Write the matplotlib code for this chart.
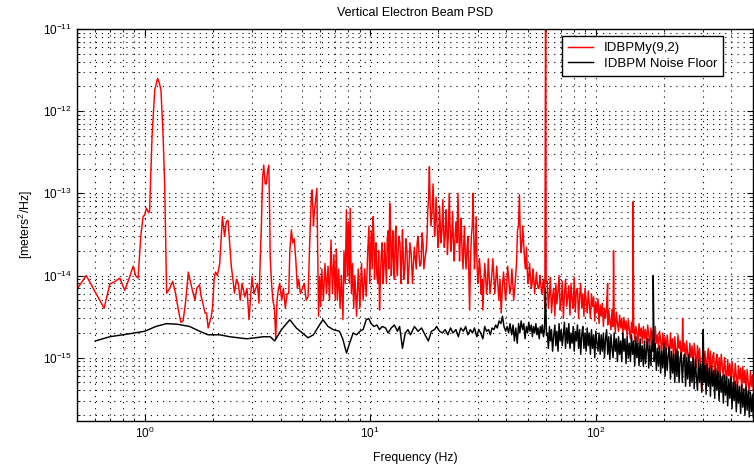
import matplotlib
matplotlib.use("Agg")
import matplotlib.pyplot as plt
import numpy as np

# ---------------- data (PSD values in units of 1e-15 m^2/Hz) ----------------
SCALE = 1e-15

red_f_low = [0.50, 0.55, 0.66, 0.70, 0.74, 0.775, 0.815, 0.85, 0.888, 0.91,
             0.934, 0.96, 0.983, 1.00, 1.017, 1.04, 1.05, 1.077, 1.107, 1.14,
             1.16, 1.18, 1.206, 1.226, 1.25, 1.29, 1.33, 1.37, 1.405, 1.445,
             1.48, 1.52, 1.56, 1.60, 1.64, 1.67, 1.70, 1.75, 1.78, 1.81,
             1.85, 1.88, 1.91, 1.94, 1.97, 2.00, 2.03, 2.06, 2.10, 2.15,
             2.21, 2.26, 2.30, 2.34, 2.38, 2.42, 2.46, 2.50, 2.55, 2.60,
             2.65, 2.70, 2.78, 2.84, 2.90, 2.99, 3.05, 3.10, 3.16, 3.21,
             3.25, 3.29, 3.33, 3.37, 3.42, 3.46, 3.50, 3.55, 3.58, 3.60,
             3.65, 3.70, 3.76, 3.81, 3.86, 3.92, 3.97, 4.05, 4.12, 4.20,
             4.28, 4.35, 4.40, 4.47, 4.53, 4.60, 4.68, 4.75, 4.82, 4.90,
             5.00, 5.10, 5.20, 5.30, 5.40, 5.48, 5.53, 5.60, 5.65, 5.72,
             5.80, 5.85, 5.90, 5.97]
red_v_low = [6.8, 10, 4.0, 7.9, 8.5, 9.3, 6.6, 9, 13, 10,
             9.3, 30, 52, 55, 66, 58, 60, 490, 1800, 2500,
             2200, 1800, 490, 120, 6.1, 7, 8.5, 6, 4, 2.7,
             2.8, 5, 11, 8, 6, 5, 7, 7.7, 5.5, 4.6,
             3.5, 3.5, 2.3, 2.7, 3.1, 4.2, 9, 11, 10, 14,
             52, 30, 45, 47, 25, 13, 9, 6.1, 9, 8,
             5, 8, 5.5, 7, 2.9, 9.7, 6, 6.8, 8, 4.6,
             15, 40, 150, 220, 130, 130, 180, 220, 60, 17,
             8, 5, 4, 1.7, 5, 7, 8, 5, 7, 4,
             6, 6, 20, 36, 25, 28, 15, 7, 9, 6,
             7, 8, 5, 5.5, 30, 90, 110, 40, 60, 80,
             115, 20, 3.2, 9.8]

red_f_mid = [6.03, 6.10, 6.20, 6.30, 6.40, 6.50, 6.60, 6.70, 6.80, 6.90,
             7.00, 7.07, 7.15, 7.25, 7.35, 7.45, 7.57, 7.65, 7.75, 7.84,
             7.92, 8.00, 8.08, 8.15, 8.25, 8.35, 8.45, 8.55, 8.70, 8.85,
             9.00, 9.15, 9.30, 9.45, 9.60, 9.75, 9.87, 9.95, 10.1, 10.3,
             10.45, 10.6, 10.8, 11.0, 11.2, 11.4, 11.6, 11.8, 12.0, 12.2,
             12.4, 12.6, 12.8, 13.0, 13.2, 13.4, 13.7, 13.9, 14.1, 14.4,
             14.7, 15.0, 15.4, 15.7, 16.0, 16.3, 16.6, 17.0, 17.3, 17.7,
             18.0, 18.3, 18.6, 19.0, 19.3, 19.6, 20.0, 20.3, 20.6, 21.0,
             21.3, 21.7, 22.0, 22.4, 22.8, 23.2, 23.6, 24.0, 24.5, 24.9,
             25.3, 25.8, 26.2, 26.6, 27.1, 27.6, 28.1, 28.6, 29.0, 29.5,
             30.0, 30.5, 31.0, 31.6, 32.2, 32.8, 33.4, 34.0, 35.0, 35.7,
             36.4, 37.2, 38.1, 39.0, 39.8, 40.7, 41.6, 42.5, 43.3, 44.2,
             45.0, 45.9, 46.7, 47.5, 48.4, 49.3, 50.1, 50.9, 51.8, 52.7,
             53.6, 54.6, 55.6, 56.6, 57.6, 58.6, 59.5, 59.95, 60.05, 60.3]
red_v_mid = [4.2, 12, 5, 14, 6, 13, 5, 27, 6, 18,
             5, 21, 5, 12, 4, 10, 2.9, 20, 8, 63,
             10, 45, 8, 66, 6, 14, 4, 10, 3.2, 12,
             4, 14, 5, 12, 5.6, 20, 40, 8, 35, 52,
             9, 25, 8, 3.8, 18, 8, 25, 8, 35, 76,
             10, 35, 9, 40, 10, 30, 8, 36, 9, 28,
             8, 25, 8, 22, 12, 30, 13, 33, 12, 20,
             60, 210, 40, 130, 30, 90, 22, 70, 25, 84,
             22, 63, 18, 100, 20, 60, 15, 45, 100, 15,
             50, 12, 40, 12, 30, 3.8, 30, 100, 12, 52,
             8, 16, 6, 3.8, 14, 6, 16, 6, 16, 6,
             13, 5, 3.5, 11, 5, 13, 6, 12, 5, 10,
             35, 96, 19, 40, 15, 22, 8, 14, 7, 12,
             6, 11, 7, 10, 6, 9, 4, 20000, 4600, 8]

# extra samples between the ones above (the 10-60 Hz band is densely sampled)
red_f_fill = [10.2, 10.38, 10.52, 10.7, 10.9, 11.1, 11.3, 11.5, 11.7, 11.9,
              12.1, 12.3, 12.5, 12.7, 12.9, 13.1, 13.3, 13.55, 13.8, 14.0,
              14.25, 14.55, 14.85, 15.2, 15.55, 15.85, 16.15, 16.45, 16.8, 17.15,
              17.5, 17.85, 18.15, 18.45, 18.8, 19.15, 19.45, 19.8, 20.15, 20.45,
              20.8, 21.15, 21.5, 21.85, 22.2, 22.6, 23.0, 23.4, 23.8, 24.25,
              24.7, 25.1, 25.55, 26.0, 26.4, 26.85, 27.35, 27.85, 28.35, 28.8,
              29.25, 29.75, 30.25, 30.75, 31.3, 31.9, 32.5, 33.1, 33.7, 34.5,
              35.35, 36.05, 36.8, 37.65, 38.55, 39.4, 40.25, 41.15, 42.05, 42.9,
              43.75, 44.6, 45.45, 46.3, 47.1, 47.95, 48.85, 49.7, 50.5, 51.35,
              52.25, 53.15, 54.1, 55.1, 56.1, 57.1, 58.1, 59.0]
red_v_fill = [12, 30, 18, 10, 20, 10, 25, 12, 14, 28,
              12, 40, 20, 12, 30, 14, 20, 25, 15, 20,
              12, 20, 12, 18, 14, 16, 25, 18, 14, 25,
              16, 28, 90, 70, 60, 60, 45, 40, 30, 40,
              35, 40, 30, 40, 30, 40, 30, 25, 30, 25,
              35, 30, 20, 25, 18, 20, 12, 15, 40, 30,
              20, 15, 10, 12, 9, 8, 10, 8, 10, 9,
              10, 9, 8, 9, 7, 8, 7, 9, 7, 8,
              7, 15, 40, 30, 25, 25, 12, 12, 9, 10,
              8, 9, 8, 8, 7, 8, 7, 7]

# high-frequency region: both traces share these frequencies
hf_f = [61.0, 61.7, 62.4, 63.0, 63.7, 64.4, 65.1, 65.9, 66.6, 67.3,
        68.1, 68.8, 69.6, 70.4, 71.1, 71.9, 72.7, 73.5, 74.4, 75.2,
        76.0, 76.9, 77.7, 78.6, 79.5, 80.3, 81.2, 82.1, 83.0, 84.0,
        84.9, 85.8, 86.8, 87.7, 88.7, 89.7, 90.7, 91.7, 92.7, 93.7,
        94.8, 95.8, 96.9, 98.0, 99.1, 100.2, 101.3, 102.4, 103.5, 104.7,
        105.8, 107.0, 108.2, 109.4, 110.6, 111.8, 113.1, 114.3, 115.6, 116.9,
        118.2, 119.5, 120.8, 122.2, 123.5, 124.9, 126.3, 127.7, 129.1, 130.5,
        132.0, 133.4, 134.9, 136.4, 137.9, 139.5, 141.0, 142.6, 144.2, 145.8,
        147.4, 149.0, 150.7, 152.3, 154.0, 155.7, 157.5, 159.2, 161.0, 162.8,
        164.6, 166.4, 168.3, 170.1, 172.0, 173.9, 175.9, 177.8, 179.8, 181.8,
        183.8, 185.9, 187.9, 190.0, 192.1, 194.3, 196.4, 198.6, 200.8, 203.1,
        205.3, 207.6, 209.9, 212.2, 214.6, 217.0, 219.4, 221.8, 224.3, 226.8,
        229.3, 231.8, 234.4, 237.0, 239.6, 242.3, 245.0, 247.7, 250.5, 253.2,
        256.0, 258.9, 261.8, 264.7, 267.6, 270.6, 273.6, 276.6, 279.7, 282.8,
        286.0, 289.1, 292.3, 295.6, 298.9, 302.2, 305.5, 308.9, 312.3, 315.8,
        319.3, 322.9, 326.4, 330.0, 333.7, 337.4, 341.1, 344.9, 348.7, 352.6,
        356.5, 360.5, 364.5, 368.5, 372.6, 376.7, 380.9, 385.1, 389.4, 393.7,
        398.0, 402.5, 406.9, 411.4, 416.0, 420.6, 425.3, 430.0, 434.8, 439.6,
        444.5, 449.4, 454.4, 459.4, 464.5, 469.7, 474.9, 480.1, 485.5, 490.8,
        496.3, 500.0]
red_v_hf = [8.5, 4.0, 6.0, 9.5, 3.5, 5.5, 7.0, 3.2, 8.0, 4.5,
            6.5, 10.0, 3.8, 5.0, 8.5, 3.0, 6.0, 9.0, 4.2, 5.5,
            7.5, 3.3, 8.0, 5.0, 4.0, 9.5, 3.6, 6.5, 7.0, 3.0,
            5.5, 8.0, 4.0, 6.0, 3.2, 7.0, 5.0, 3.5, 6.5, 4.5,
            3.0, 6.0, 4.2, 5.5, 2.8, 4.8, 3.5, 5.2, 2.6, 4.4,
            3.2, 4.6, 2.4, 4.0, 3.0, 4.2, 2.5, 3.8, 2.8, 2.2,
            3.9, 2.4, 3.4, 2.0, 3.6, 2.6, 2.1, 3.3, 2.3, 3.0,
            1.9, 3.1, 2.2, 2.8, 1.8, 2.9, 2.2, 1.7, 2.7, 2.0,
            2.6, 1.6, 2.4, 2.0, 1.5, 2.6, 1.8, 2.3, 1.5, 2.4,
            1.7, 2.2, 1.4, 2.5, 1.9, 1.4, 2.3, 1.6, 2.1, 1.3,
            2.4, 1.5, 1.9, 1.3, 2.1, 1.6, 1.2, 2.0, 1.4, 1.8,
            1.1, 1.9, 1.4, 1.0, 2.0, 1.3, 1.7, 0.95, 1.8, 1.2,
            1.0, 1.9, 1.3, 1.6, 0.9, 1.7, 1.2, 1.5, 0.9, 1.6,
            1.1, 0.85, 1.5, 1.0, 1.4, 0.8, 1.5, 1.1, 0.75, 1.4,
            0.9, 1.3, 0.7, 0.39, 1.4, 0.8, 1.2, 0.65, 1.0, 1.3,
            0.7, 1.2, 0.6, 1.0, 1.15, 0.6, 0.9, 1.1, 0.55, 1.0,
            0.6, 1.1, 0.8, 0.55, 1.0, 0.7, 0.5, 0.95, 0.6, 0.85,
            0.48, 0.9, 0.65, 0.45, 0.85, 0.6, 0.42, 0.8, 0.55, 0.75,
            0.4, 0.78, 0.5, 0.7, 0.38, 0.72, 0.5, 0.36, 0.68, 0.45,
            0.62, 0.4]
black_v_hf = [2.0, 1.3, 2.4, 1.6, 2.2, 1.2, 1.8, 2.5, 1.4, 2.1,
              1.2, 2.6, 1.6, 2.2, 1.4, 1.9, 2.7, 1.3, 2.3, 1.5,
              2.6, 1.3, 2.0, 1.5, 2.4, 1.2, 2.1, 1.6, 2.5, 1.3,
              2.2, 1.1, 1.9, 2.4, 1.3, 2.0, 1.2, 2.3, 1.4, 2.0,
              1.1, 2.2, 1.3, 1.9, 1.0, 2.1, 1.5, 1.2, 2.0, 1.1,
              1.9, 1.2, 2.0, 1.0, 1.7, 2.2, 1.1, 1.8, 0.95, 1.9,
              1.3, 1.0, 2.0, 1.2, 1.7, 0.9, 1.8, 1.1, 1.6, 0.9,
              2.0, 1.2, 1.7, 0.85, 1.8, 1.0, 1.5, 0.9, 1.9, 1.1,
              1.6, 0.8, 1.8, 1.0, 1.5, 0.8, 1.7, 0.9, 1.4, 0.78,
              1.6, 0.85, 1.3, 1.7, 0.75, 1.4, 0.8, 1.6, 1.2, 0.9,
              1.5, 0.7, 1.3, 0.8, 1.4, 0.65, 1.2, 0.75, 1.5, 0.6,
              1.3, 0.7, 1.1, 1.35, 0.55, 1.2, 0.65, 1.1, 0.5, 1.25,
              0.6, 1.2, 0.5, 1.0, 1.15, 0.5, 0.9, 1.1, 0.45, 1.0,
              0.55, 1.1, 0.45, 0.9, 0.5, 1.0, 0.42, 0.95, 0.6, 0.4,
              0.95, 0.5, 0.85, 0.38, 0.9, 0.5, 0.8, 0.36, 0.85, 0.45,
              0.75, 0.34, 0.8, 0.45, 0.7, 0.32, 0.75, 0.4, 0.68, 0.3,
              0.65, 0.38, 0.6, 0.28, 0.62, 0.35, 0.58, 0.26, 0.55, 0.32,
              0.58, 0.24, 0.5, 0.3, 0.52, 0.22, 0.48, 0.28, 0.45, 0.21,
              0.47, 0.25, 0.42, 0.2, 0.44, 0.23, 0.4, 0.19, 0.38, 0.22,
              0.36, 0.19]

# narrow spectral lines above 60 Hz
red_line_f = [113.0, 120.0, 146.6, 243.0]
red_line_v = [8.0, 20.0, 79.0, 3.0]
black_line_f = [180.0, 300.0]
black_line_v = [10.0, 2.2]

black_f_low = [0.604, 0.70, 0.85, 1.00, 1.12, 1.25, 1.40, 1.58, 1.75, 1.91,
               2.15, 2.38, 2.60, 2.83, 3.10, 3.35, 3.60, 3.77, 4.04, 4.40,
               4.70, 5.00, 5.30, 5.60, 5.90, 6.17, 6.50, 6.85, 7.30, 7.55,
               7.85, 8.10, 8.40, 8.70, 9.00, 9.30, 9.60, 9.85, 10.1, 10.4,
               10.7, 11.0, 11.3, 11.7, 12.0, 12.4, 12.8, 13.2, 13.5, 13.9,
               14.3, 14.7, 15.1, 15.7, 16.3, 16.9, 17.5, 18.1, 18.7, 19.3,
               19.7, 20.3, 20.9, 21.5, 22.1, 22.7, 23.3, 24.0, 24.6, 25.2,
               25.9, 26.5, 27.1, 27.8, 28.4, 29.0, 29.7, 30.3, 30.9, 31.6,
               32.2, 32.8, 33.5, 34.1, 34.7, 35.4, 36.0, 36.6, 37.3, 38.0,
               38.6, 39.2, 39.9, 40.5, 41.1, 41.7, 42.4, 43.0, 43.6, 44.2,
               44.9, 45.5, 46.1, 46.7, 47.4, 48.0, 48.6, 49.3, 49.9, 50.5,
               51.1, 51.8, 52.4, 53.0, 53.6, 54.3, 54.9, 55.5, 56.2, 56.8,
               57.4, 58.0, 58.7, 59.3, 59.9, 60.5]
black_v_low = [1.6, 1.8, 1.95, 2.1, 2.4, 2.6, 2.55, 2.4, 2.1, 1.9,
               1.9, 1.8, 1.75, 1.7, 1.75, 1.8, 1.8, 1.6, 2.2, 2.9,
               2.3, 2.0, 1.75, 1.9, 2.4, 2.9, 2.4, 2.2, 2.1, 1.7,
               1.14, 1.5, 2.0, 1.9, 2.1, 2.2, 2.9, 3.0, 2.6, 2.4,
               2.5, 2.2, 2.4, 2.3, 2.0, 2.3, 2.5, 2.1, 2.4, 1.3,
               2.0, 2.2, 1.9, 2.4, 2.1, 2.3, 1.9, 1.6, 2.1, 2.2,
               2.4, 2.1, 2.0, 2.2, 1.9, 2.3, 2.0, 2.2, 1.8, 2.3,
               2.1, 2.4, 1.9, 2.2, 2.0, 2.3, 1.8, 2.2, 2.0, 1.7,
               2.4, 2.1, 2.2, 1.9, 2.3, 2.2, 2.5, 2.3, 2.8, 2.6,
               3.2, 2.4, 2.1, 2.4, 2.0, 2.6, 1.9, 2.5, 1.6, 2.3,
               1.5, 2.6, 2.0, 2.8, 2.2, 2.6, 1.7, 2.4, 2.0, 2.7,
               2.1, 2.5, 1.8, 2.4, 2.0, 2.6, 1.9, 2.3, 1.7, 2.4,
               2.0, 2.5, 1.8, 2.2, 7.0, 1.9]

labels = ["IDBPMy(9,2)", "IDBPM Noise Floor"]
y_major = [1e-15, 1e-14, 1e-13, 1e-12, 1e-11]
x_major = [1, 10, 100]

# ---------------- plotting ----------------
plt.rcParams['font.family'] = ['Liberation Sans', 'DejaVu Sans']
plt.rcParams['mathtext.fontset'] = 'custom'
plt.rcParams['mathtext.rm'] = 'Liberation Sans'

fig = plt.figure(figsize=(7.54, 4.66), dpi=100)
ax = fig.add_axes([0.102, 0.0966, 0.897, 0.8414])


def assemble(f_parts, v_parts):
    f = np.concatenate([np.asarray(p, float) for p in f_parts])
    v = np.concatenate([np.asarray(p, float) for p in v_parts])
    order = np.argsort(f, kind='stable')
    return f[order], v[order] * SCALE


red_f, red_v = assemble([red_f_low, red_f_mid, red_f_fill, hf_f, red_line_f],
                        [red_v_low, red_v_mid, red_v_fill, red_v_hf, red_line_v])
black_f, black_v = assemble([black_f_low, hf_f, black_line_f],
                            [black_v_low, black_v_hf, black_line_v])

ax.loglog(red_f, red_v, color='#ff0000', lw=1.05, label=labels[0])
ax.loglog(black_f, black_v, color='black', lw=1.05, label=labels[1])

ax.set_xlim(0.5, 500)
ax.set_ylim(1.7e-16, 1e-11)
ax.set_yticks(y_major)
ax.set_xticks(x_major)

dot = (0, (1, 4.5))
ax.grid(True, which='major', color='black', linestyle=dot, linewidth=0.8)
ax.grid(True, which='minor', color='black', linestyle=dot, linewidth=0.8)
ax.set_axisbelow(True)

ax.tick_params(which='both', direction='in', top=True, right=True, labelsize=8.5)
ax.tick_params(which='major', length=4)
ax.tick_params(which='minor', length=2)
for s in ax.spines.values():
    s.set_linewidth(1.0)

ax.set_title("Vertical Electron Beam PSD", fontsize=9, pad=9)
ax.set_xlabel("Frequency (Hz)", fontsize=8.8, labelpad=8)
ax.set_ylabel(r"[meters$^2$/Hz]", fontsize=8.8, labelpad=6)

leg = ax.legend(loc='upper right', bbox_to_anchor=(0.9556, 0.982), borderaxespad=0,
                fontsize=9.5, fancybox=False, framealpha=1, edgecolor='black',
                handlelength=1.9, borderpad=0.45, labelspacing=0.25, handletextpad=0.8)
leg.get_frame().set_linewidth(1.0)

fig.savefig("out.png", dpi=100)
